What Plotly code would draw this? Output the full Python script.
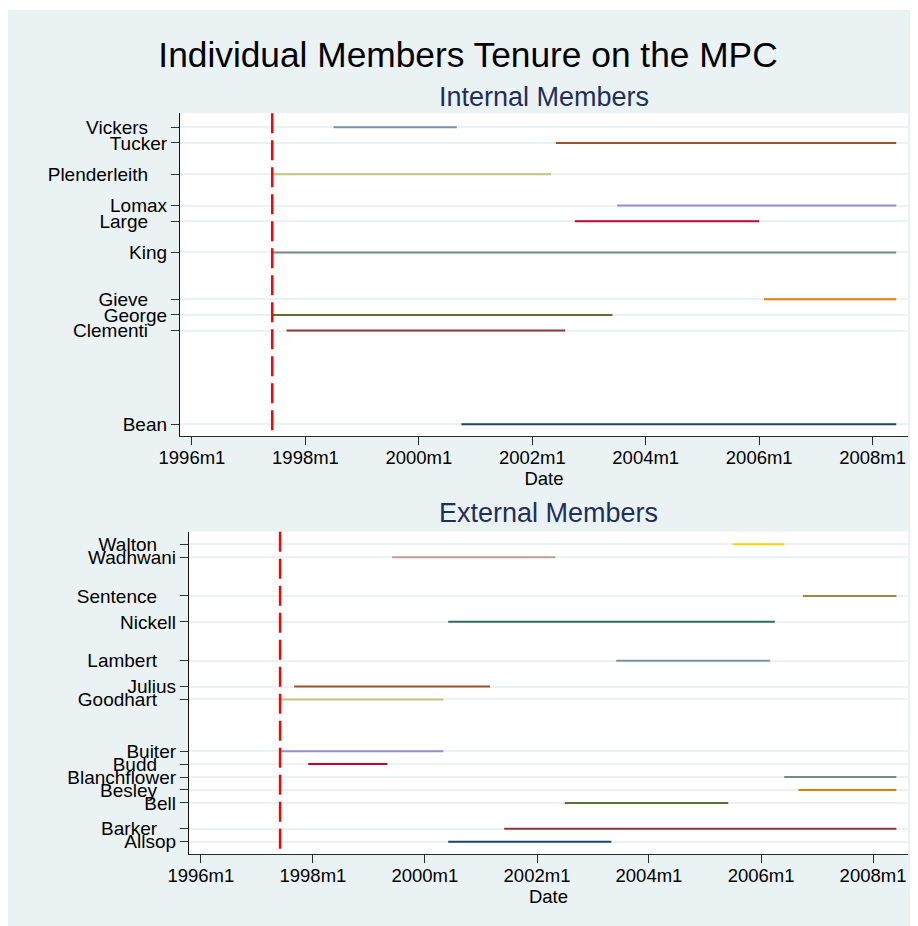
import plotly.graph_objects as go

# ---------------- data ----------------
internal_names = ["Bean", "Clementi", "George", "Gieve", "King", "Large",
                  "Lomax", "Plenderleith", "Tucker", "Vickers"]
internal_start = ["2000-10", "1997-09", "1997-06", "2006-02", "1997-06", "2002-10",
                  "2003-07", "1997-06", "2002-06", "1998-07"]
internal_end = ["2008-06", "2002-08", "2003-06", "2008-06", "2008-06", "2006-01",
                "2008-06", "2002-05", "2008-06", "2000-09"]

external_names = ["Allsop", "Barker", "Bell", "Besley", "Blanchflower", "Budd",
                  "Buiter", "Goodhart", "Julius", "Lambert", "Nickell", "Sentence",
                  "Wadhwani", "Walton"]
external_start = ["2000-06", "2001-06", "2002-07", "2006-09", "2006-06", "1997-12",
                  "1997-06", "1997-06", "1997-09", "2003-06", "2000-06", "2006-10",
                  "1999-06", "2005-07"]
external_end = ["2003-05", "2008-06", "2005-06", "2008-06", "2008-06", "1999-05",
                "2000-05", "2000-05", "2001-03", "2006-03", "2006-04", "2008-06",
                "2002-05", "2006-06"]

mpc_start = "1997-06"

x_tickvals = ["1996-01", "1998-01", "2000-01", "2002-01", "2004-01", "2006-01", "2008-01"]
x_ticktext = ["1996m1", "1998m1", "2000m1", "2002m1", "2004m1", "2006m1", "2008m1"]

# Stata s2color palette
palette = ["#1a476f", "#90353b", "#55752f", "#e37e00", "#6e8e84", "#c10534",
           "#938dd2", "#cac27e", "#a0522d", "#7b92a8", "#2d6d66", "#9c8847",
           "#bfa19c", "#ffd200"]

# member id = alphabetical position among all members
all_names = sorted(internal_names + external_names)
def member_id(n):
    return all_names.index(n) + 1

W, H = 910, 918          # page is offset by the 8px body margin
FONT = "Liberation Sans, Arial, Helvetica, sans-serif"
BG = "#eaf2f3"
NAVY = "#1f2f5c"

fig = go.Figure()

def add_panel(names, starts, ends, xa, ya):
    for i, (n, s, e) in enumerate(zip(names, starts, ends)):
        yv = member_id(n)
        fig.add_trace(go.Scatter(x=[s, e], y=[yv, yv], mode="lines",
                                 line=dict(color=palette[i % len(palette)], width=2),
                                 xaxis=xa, yaxis=ya, showlegend=False,
                                 hoverinfo="skip"))

add_panel(internal_names, internal_start, internal_end, "x", "y")
add_panel(external_names, external_start, external_end, "x2", "y2")

def ylabels(names):
    vals = [member_id(n) for n in names]
    txt = [n if i % 2 == 0 else n + "\u2002\u2002" for i, n in enumerate(names)]
    return vals, txt

xr = ["1995-10-16", "2008-08-16"]

def xaxis_cfg(domain, anchor):
    return dict(domain=domain, anchor=anchor, type="date", range=xr,
                automargin=False,
                tickmode="array", tickvals=x_tickvals, ticktext=x_ticktext,
                showline=True, linecolor="#2a2a2a", linewidth=1.3,
                ticks="outside", ticklen=8, tickwidth=1.3, tickcolor="#2a2a2a",
                ticklabelstandoff=-3,
                showgrid=False, zeroline=False,
                tickfont=dict(family=FONT, size=18.5, color="black"),
                title=dict(text="Date", standoff=0,
                           font=dict(family=FONT, size=18.5, color="black")))

def yaxis_cfg(domain, anchor, names, rng):
    v, t = ylabels(names)
    return dict(domain=domain, anchor=anchor, range=rng, automargin=False,
                tickmode="array", tickvals=v, ticktext=t,
                showline=True, linecolor="#111111", linewidth=1.3,
                ticks="outside", ticklen=8, tickwidth=1.3, tickcolor="#333333",
                showgrid=True, gridcolor=BG, gridwidth=1.5, zeroline=False,
                tickfont=dict(family=FONT, size=19, color="black"))

fig.update_layout(
    width=W, height=H, autosize=False,
    margin=dict(l=0, r=0, t=0, b=0, pad=0),
    paper_bgcolor=BG, plot_bgcolor="white",
    font=dict(family=FONT, color="black"),
    xaxis=xaxis_cfg([172 / W, 900 / W], "y"),
    yaxis=yaxis_cfg([1 - 428 / H, 1 - 105.3 / H], "x", internal_names, [2.25, 22.9]),
    xaxis2=xaxis_cfg([181 / W, 900 / W], "y2"),
    yaxis2=yaxis_cfg([1 - 846 / H, 1 - 523.7 / H], "x2", external_names, [0.05, 24.97]),
    title=dict(text="Individual Members Tenure on the MPC", x=460 / W, y=1 - 47 / H,
               xanchor="center", yanchor="middle", xref="paper", yref="paper",
               automargin=False,
               font=dict(family=FONT, size=35.3, color="black")),
    showlegend=False,
)

# thin white strip at very top (as in reference)
fig.add_shape(type="rect", xref="paper", yref="paper", x0=0, x1=1,
              y0=1 - 2 / H, y1=1, fillcolor="white", line=dict(width=0), layer="below")

# subtitles
fig.add_annotation(text="Internal Members", xref="paper", yref="paper",
                   x=536 / W, y=1 - 89 / H, xanchor="center", yanchor="middle",
                   showarrow=False, font=dict(family=FONT, size=27, color=NAVY))
fig.add_annotation(text="External Members", xref="paper", yref="paper",
                   x=540.5 / W, y=1 - 505 / H, xanchor="center", yanchor="middle",
                   showarrow=False, font=dict(family=FONT, size=27, color=NAVY))

# MPC start line
for xr_, yr_ in (("x", "y domain"), ("x2", "y2 domain")):
    fig.add_shape(type="line", xref=xr_, yref=yr_, x0=mpc_start, x1=mpc_start,
                  y0=1, y1=0, line=dict(color="#ff0000", width=2.5, dash="20px,7px"))

fig.write_html("out.html")
